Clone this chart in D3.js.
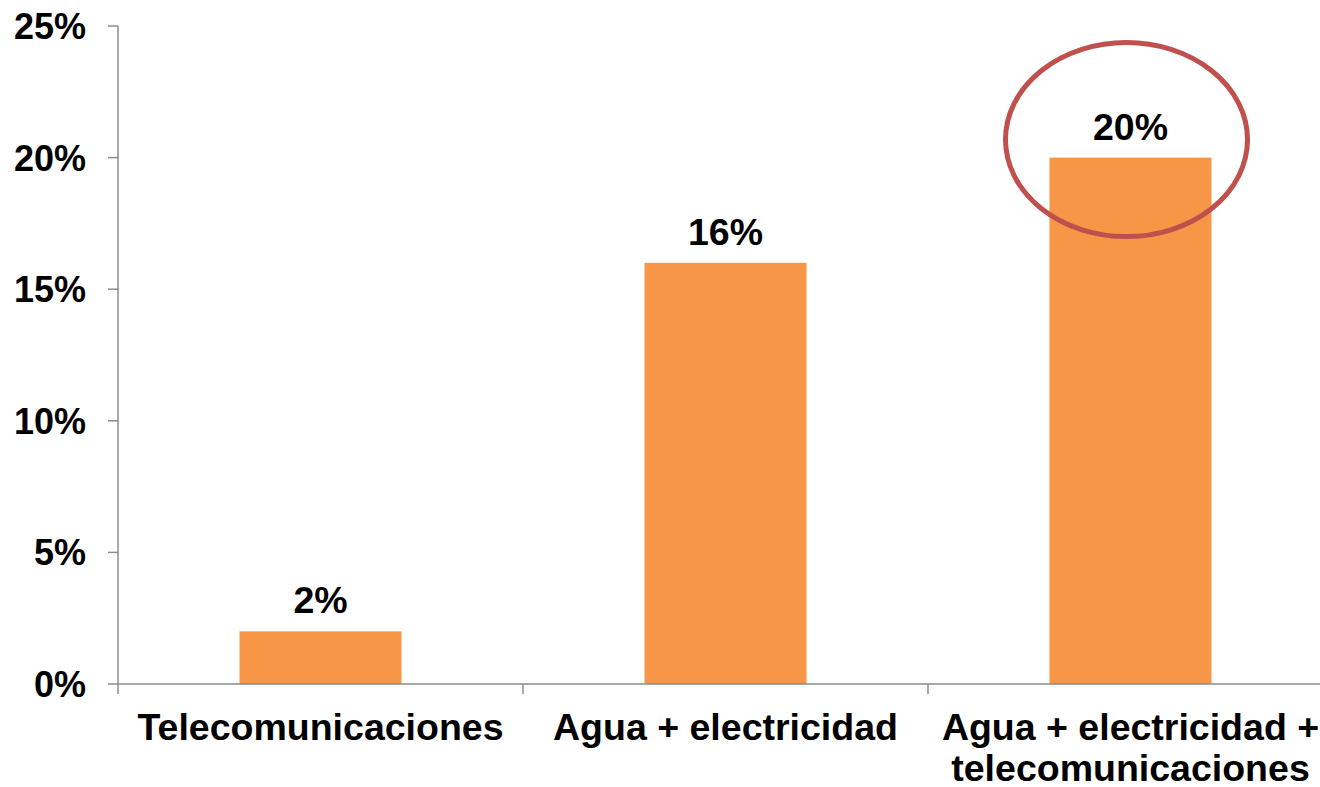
<!DOCTYPE html>
<html>
<head>
<meta charset="utf-8">
<script src="https://cdn.jsdelivr.net/npm/d3@7"></script>
<style>
  html, body { margin: 0; padding: 0; background: #fff; }
  svg { display: block; }
  text { font-family: "Liberation Sans", Arial, sans-serif; font-weight: bold; fill: #000; }
</style>
</head>
<body>
<svg id="chart" width="1320" height="787"></svg>
<script>
const categories = [["Telecomunicaciones"], ["Agua + electricidad"], ["Agua + electricidad +", "telecomunicaciones"]];
const values = [0.02, 0.16, 0.20];
const yTicks = [0, 0.05, 0.10, 0.15, 0.20, 0.25];
const highlightIndex = 2;

const svg = d3.select("#chart");
const x0 = 118, x1 = 1333, yBottom = 684, yTop = 26;
const axisColor = "#8c8c8c";

const keys = categories.map(c => c.join(" "));
const x = d3.scaleBand().domain(keys).range([x0, x1]).paddingInner(0.6).paddingOuter(0.3);
const xEdges = d3.scaleLinear().domain([0, keys.length]).range([x0, x1]);
const y = d3.scaleLinear().domain([0, 0.25]).range([yBottom, yTop]);

// bars
svg.selectAll("rect.bar").data(values).join("rect")
  .attr("class", "bar")
  .attr("x", (d, i) => x(keys[i]))
  .attr("width", x.bandwidth())
  .attr("y", d => y(d))
  .attr("height", d => y(0) - y(d))
  .attr("fill", "#F79646");

// y axis
const yAxis = svg.append("g");
yAxis.append("line").attr("x1", x0).attr("x2", x0).attr("y1", y(0.25)).attr("y2", y(0))
  .attr("stroke", axisColor).attr("stroke-width", 1.5);
yAxis.selectAll("line.tick").data(yTicks).join("line").attr("class", "tick")
  .attr("x1", x0 - 10).attr("x2", x0).attr("y1", d => y(d)).attr("y2", d => y(d))
  .attr("stroke", axisColor).attr("stroke-width", 1.5);
yAxis.selectAll("text").data(yTicks).join("text")
  .attr("x", 86).attr("y", d => y(d)).attr("dy", "0.36em")
  .attr("text-anchor", "end").attr("font-size", 36)
  .text(d => d3.format(".0%")(d));

// x axis
const xAxis = svg.append("g");
xAxis.append("line").attr("x1", x0).attr("x2", 1320).attr("y1", y(0)).attr("y2", y(0))
  .attr("stroke", axisColor).attr("stroke-width", 1.5);
xAxis.selectAll("line.tick").data(d3.range(keys.length + 1)).join("line").attr("class", "tick")
  .attr("x1", d => xEdges(d)).attr("x2", d => xEdges(d))
  .attr("y1", y(0)).attr("y2", y(0) + 10)
  .attr("stroke", axisColor).attr("stroke-width", 1.5);
xAxis.selectAll("text").data(categories).join("text")
  .attr("x", (d, i) => x(keys[i]) + x.bandwidth() / 2)
  .attr("y", 740)
  .attr("text-anchor", "middle").attr("font-size", 37.5)
  .each(function(d) {
    const t = d3.select(this);
    d.forEach((line, j) => {
      t.append("tspan").attr("x", t.attr("x")).attr("dy", j === 0 ? 0 : 41).text(line);
    });
  });

// value labels
svg.selectAll("text.val").data(values).join("text").attr("class", "val")
  .attr("x", (d, i) => x(keys[i]) + x.bandwidth() / 2)
  .attr("y", d => y(d) - 18)
  .attr("text-anchor", "middle").attr("font-size", 37.5)
  .text(d => d3.format(".0%")(d));

// highlight ellipse
svg.append("ellipse")
  .attr("cx", x(keys[highlightIndex]) + x.bandwidth() / 2 - 4)
  .attr("cy", y(values[highlightIndex]) - 18)
  .attr("rx", 121).attr("ry", 97)
  .attr("fill", "none").attr("stroke", "#C0504D").attr("stroke-width", 5);
</script>
</body>
</html>
